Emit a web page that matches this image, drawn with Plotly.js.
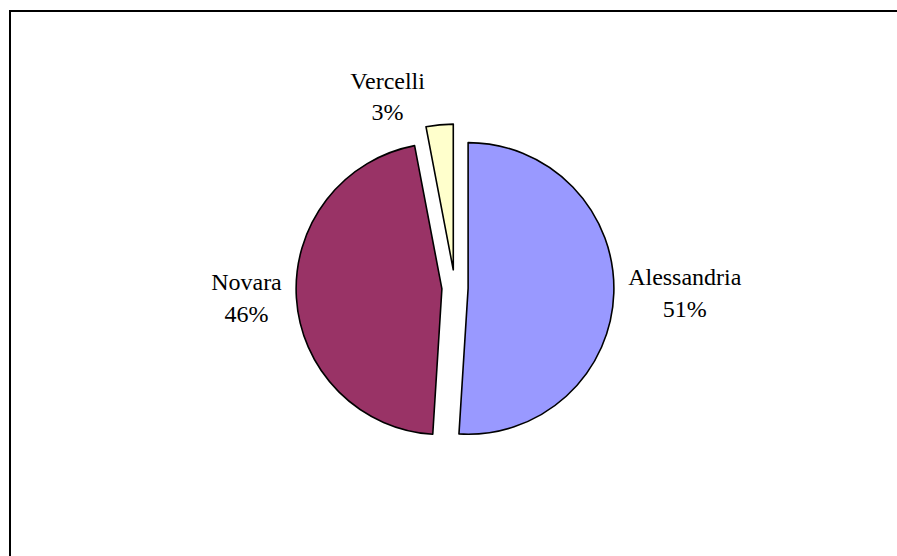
<!DOCTYPE html>
<html>
<head>
<meta charset="utf-8">
<script src="https://cdn.plot.ly/plotly-3.0.1.min.js"></script>
<style>
  html, body { margin: 0; padding: 0; background: #fff; }
  #wrap { position: relative; width: 897px; height: 556px; overflow: hidden; }
  #chart { position: absolute; left: 0; top: 0; width: 897px; height: 556px; }
  #frame { position: absolute; left: 9px; top: 10px; width: 1000px; height: 1000px;
           border-left: 2px solid #000; border-top: 2px solid #000; pointer-events: none; }
</style>
</head>
<body>
<div id="wrap">
  <div id="chart"></div>
  <div id="frame"></div>
</div>
<script>
// Data
const categories = ["Alessandria", "Novara", "Vercelli"];
const shares = [51, 46, 3];
const sliceColors = ["#9999FF", "#993366", "#FFFFCC"];
const slicePull = [0.09, 0.09, 0.125];

const trace = {
  type: "pie",
  labels: categories,
  values: shares,
  sort: false,
  direction: "clockwise",
  rotation: 0,
  pull: slicePull,
  marker: { colors: sliceColors, line: { color: "#000000", width: 1.6 } },
  textinfo: "label+percent",
  textposition: "outside",
  automargin: false,
  outsidetextfont: { family: "Liberation Serif, Times New Roman, serif", size: 24, color: "#000000" },
  hoverinfo: "label+percent",
  domain: { x: [255 / 897, 655 / 897], y: [0, 1] },
  showlegend: false
};

const layout = {
  width: 897,
  height: 556,
  margin: { l: 0, r: 0, t: 124, b: 104 },
  paper_bgcolor: "rgba(0,0,0,0)",
  plot_bgcolor: "rgba(0,0,0,0)",
  showlegend: false,
  font: { family: "Liberation Serif, Times New Roman, serif", color: "#000" }
};

Plotly.newPlot("chart", [trace], layout, { displayModeBar: false, staticPlot: true });
</script>
</body>
</html>
